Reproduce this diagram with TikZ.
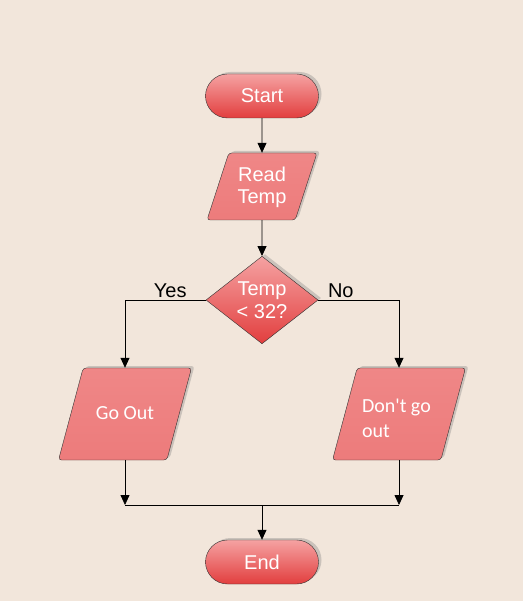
\documentclass[tikz,border=0pt]{standalone}
\usepackage{fontspec}
\setmainfont{Liberation Sans}
\newfontfamily\calibri{Carlito}
\usetikzlibrary{shapes.geometric,shapes.misc,shadows,arrows.meta}
\definecolor{bgcolor}{HTML}{F2E6DB}
\definecolor{pinktop}{HTML}{F5A2A2}
\definecolor{redbottom}{HTML}{E23E3E}
\definecolor{flatred}{HTML}{EE8282}
\tikzset{
  boxshadow/.style={drop shadow={shadow xshift=3pt,shadow yshift=2pt,opacity=0.35,fill=gray}},
  terminal/.style={rounded rectangle,draw=black!80,thin,top color=pinktop,bottom color=redbottom,
    minimum width=113pt,minimum height=44pt,inner sep=0pt,text=white,font=\fontsize{20}{23}\selectfont,boxshadow},
  iobox/.style={trapezium,trapezium stretches body,
    rounded corners=3pt,draw=black!80,thin,top color=flatred!85!pinktop,bottom color=flatred!90!redbottom,
    inner xsep=0pt,inner ysep=0pt,text=white,boxshadow},
  decision/.style={diamond,draw=black!80,thin,top color=pinktop,bottom color=redbottom,
    minimum width=112pt,minimum height=86pt,inner sep=0pt,text=white,align=center,
    font=\fontsize{20}{23}\selectfont,boxshadow},
  flow/.style={-{Triangle[length=10pt,width=9pt]},line width=0.8pt},
  joinline/.style={line width=0.8pt},
  branch/.style={above,inner sep=2pt,font=\fontsize{20}{23}\selectfont}
}
\begin{document}
\begin{tikzpicture}[x=1pt,y=-1pt]
  \fill[bgcolor] (0,0) rectangle (523,601);
  % terminals
  \node[terminal] (start) at (262,96) {Start};
  \node[terminal] (end) at (262,562) {End};
  % input / output
  \node[iobox,trapezium left angle=72,trapezium right angle=108,minimum width=110pt,
    text height=29pt,text depth=38pt,font=\fontsize{20}{22}\selectfont] (read) at (262,186.5)
    {\parbox[t]{60pt}{\centering Read\\Temp}};
  \node[iobox,trapezium left angle=75,trapezium right angle=105,minimum width=133pt,
    text height=51pt,text depth=41pt,font=\calibri\fontsize{20}{25}\selectfont] (goout) at (125,414) {Go Out};
  \node[iobox,trapezium left angle=75,trapezium right angle=105,minimum width=133pt,
    text height=44pt,text depth=48pt,font=\calibri\fontsize{20}{25}\selectfont] (dont) at (399,414)
    {\parbox[t]{74pt}{Don't go\\out}};
  % decision
  \node[decision] (test) at (262,300) {Temp\\\textless{} 32?};
  \coordinate (join) at (262,505);
  % connectors
  \draw[flow] (start) -- (read);
  \draw[flow] (read) -- (test);
  \draw[flow] (test.west) -| node[pos=0.22,branch] {Yes} (goout.north);
  \draw[flow] (test.east) -| node[pos=0.14,branch] {No} (dont.north);
  \draw[flow] (goout.south) -- (goout.south |- join);
  \draw[flow] (dont.south) -- (dont.south |- join);
  \draw[joinline] (goout.south |- join) -- (dont.south |- join);
  \draw[flow] (join) -- (end);
\end{tikzpicture}
\end{document}
